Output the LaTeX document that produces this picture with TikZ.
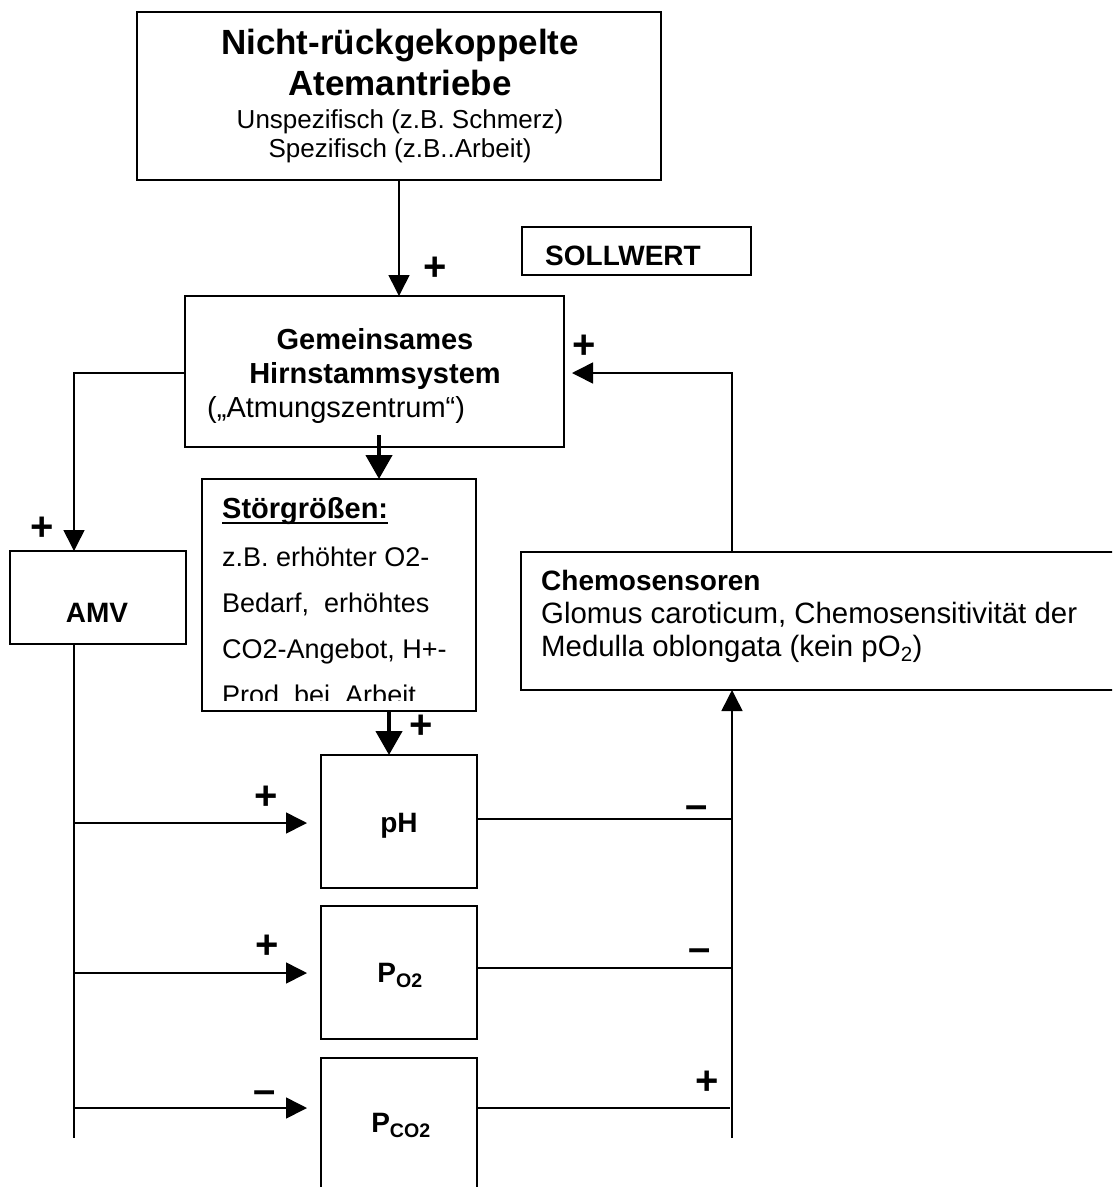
\documentclass[tikz,border=0pt]{standalone}
\usepackage{fontspec}
\setmainfont{Liberation Sans}
\usetikzlibrary{arrows.meta,calc}
\frenchspacing
\begin{document}
\begin{tikzpicture}[x=1pt,y=-1pt,
  box/.style={draw,line width=1.8pt,inner sep=0pt,outer sep=0pt,rectangle},
  ttl/.style={font=\fontsize{35}{40}\selectfont\bfseries,anchor=base,inner sep=0pt},
  sub/.style={font=\fontsize{26}{30}\selectfont,anchor=base,inner sep=0pt},
  lbl/.style={font=\fontsize{28}{32}\selectfont\bfseries,anchor=base,inner sep=0pt},
  txt/.style={font=\fontsize{29.4}{33}\selectfont,anchor=base west,inner sep=0pt},
  stx/.style={font=\fontsize{27}{31}\selectfont,anchor=base west,inner sep=0pt},
  pm/.style={font=\fontsize{40}{44}\selectfont\bfseries,anchor=center,inner sep=0pt},
  mn/.style={font=\fontsize{40}{44}\selectfont\bfseries,anchor=base,inner sep=0pt},
  line/.style={line width=1.6pt},
  arr/.style={line width=1.6pt,-{Triangle[length=21pt,width=21pt]}},
  thk/.style={line width=4.5pt,-{Triangle[length=24pt,width=26pt]}}]
\clip (0,0) rectangle (1112,1187);
% boxes
\node[box,minimum width=524pt,minimum height=168pt] (top) at (399,96) {};
\node[box,minimum width=229pt,minimum height=48pt] (soll) at (636.5,251) {};
\node[box,minimum width=379pt,minimum height=151pt] (hirn) at (374.5,371.5) {};
\node[box,minimum width=274pt,minimum height=232pt] (stoer) at (339,595) {};
\node[box,minimum width=176pt,minimum height=93pt] (amv) at (98,597.5) {};
\node[box,minimum width=600pt,minimum height=138pt] (chemo) at (821,621) {};
\node[box,minimum width=156pt,minimum height=133pt] (ph) at (399,821.5) {};
\node[box,minimum width=156pt,minimum height=133pt] (po) at (399,972.5) {};
\node[box,minimum width=156pt,minimum height=142pt] (pco) at (399,1129) {};
% texts
\node[ttl] (t1) at (400,54) {Nicht-rückgekoppelte};
\node[ttl] (t2) at (400,95) {Atemantriebe};
\node[sub] (t3) at (400,128) {Unspezifisch (z.B. Schmerz)};
\node[sub] (t4) at (400,157) {Spezifisch (z.B..Arbeit)};
\node[lbl,anchor=base west] (st) at (545,265) {SOLLWERT};
\node[lbl,font=\fontsize{29}{33}\selectfont\bfseries] (h1) at (375,349) {Gemeinsames};
\node[lbl,font=\fontsize{29}{33}\selectfont\bfseries] (h2) at (375,383) {Hirnstammsystem};
\node[txt,font=\fontsize{29}{33}\selectfont] (h3) at (207,417) {(„Atmungszentrum“)};
\node[lbl] (amvt) at (97,622) {AMV};
\node[lbl,anchor=base west,font=\fontsize{29}{33}\selectfont\bfseries] (sg) at (222,518) {Störgrößen:};
\draw[line width=2.5pt] ($(sg.base west)+(0,5)$) -- ($(sg.base east)+(0,5)$);
\node[stx] (s1) at (222,566) {z.B. erhöhter O2-};
\node[stx] (s2) at (222,612) {Bedarf,\ \ erhöhtes};
\node[stx] (s3) at (222,658) {CO2-Angebot, H+-};
\begin{scope}
\clip (200,680) rectangle (480,700.5);
\node[stx] (s4) at (222,704) {Prod. bei\ \ Arbeit};
\end{scope}
\node[lbl,anchor=base west] (c1) at (541,590) {Chemosensoren};
\node[txt] (c2) at (541,623) {Glomus caroticum, Chemosensitivität der};
\node[txt] (c3t) at (541,656) {Medulla oblongata (kein pO\textsubscript{2})};
\node[lbl] (pht) at (399,832) {pH};
\node[lbl] (pot) at (400,982) {P\textsubscript{O2}};
\node[lbl] (pcot) at (401,1132) {P\textsubscript{CO2}};
% signs
\node[pm] (p1) at (435,269) {+};
\node[pm] (p2) at (584,347) {+};
\node[pm] (p3) at (42,529) {+};
\node[pm] (p4) at (421,727) {+};
\node[pm] (p5) at (266,798) {+};
\node[pm] (p6) at (267,947) {+};
\node[pm] (p7) at (707,1083) {+};
\node[mn] (m1) at (265,1103) {–};
\node[mn] (m2) at (697,818) {–};
\node[mn] (m3) at (700,961) {–};
% connectors
\draw[arr] (top.south) -- (top.south |- hirn.north);
\coordinate (hl) at (74,373);
\draw[arr] (hirn.west |- hl) -- (hl) -- (hl |- amv.north);
\coordinate (hs) at (379,435);
\draw[thk] (hs) -- (hs |- stoer.north);
\coordinate (sp) at (389,0);
\draw[thk] (sp |- stoer.south) -- (sp |- ph.north);
\coordinate (lb) at (74,1138);
\draw[line] (hl |- amv.south) -- (lb);
\coordinate (a1) at (74,823);
\coordinate (a2) at (74,973);
\coordinate (a3) at (74,1108);
\draw[arr,shorten >=14pt] (a1) -- (a1 -| ph.west);
\draw[arr,shorten >=14pt] (a2) -- (a2 -| po.west);
\draw[arr,shorten >=14pt] (a3) -- (a3 -| pco.west);
\coordinate (rb) at (732,1138);
\coordinate (r1) at (732,819);
\coordinate (r2) at (732,968);
\coordinate (r3) at (730,1108);
\draw[line] (ph.east |- r1) -- (r1);
\draw[line] (po.east |- r2) -- (r2);
\draw[line] (pco.east |- r3) -- (r3);
\draw[arr] (rb) -- (rb |- chemo.south);
\coordinate (rt) at (732,373);
\draw[arr,shorten >=8pt] (rt |- chemo.north) -- (rt) -- (rt -| hirn.east);
\end{tikzpicture}
\end{document}
